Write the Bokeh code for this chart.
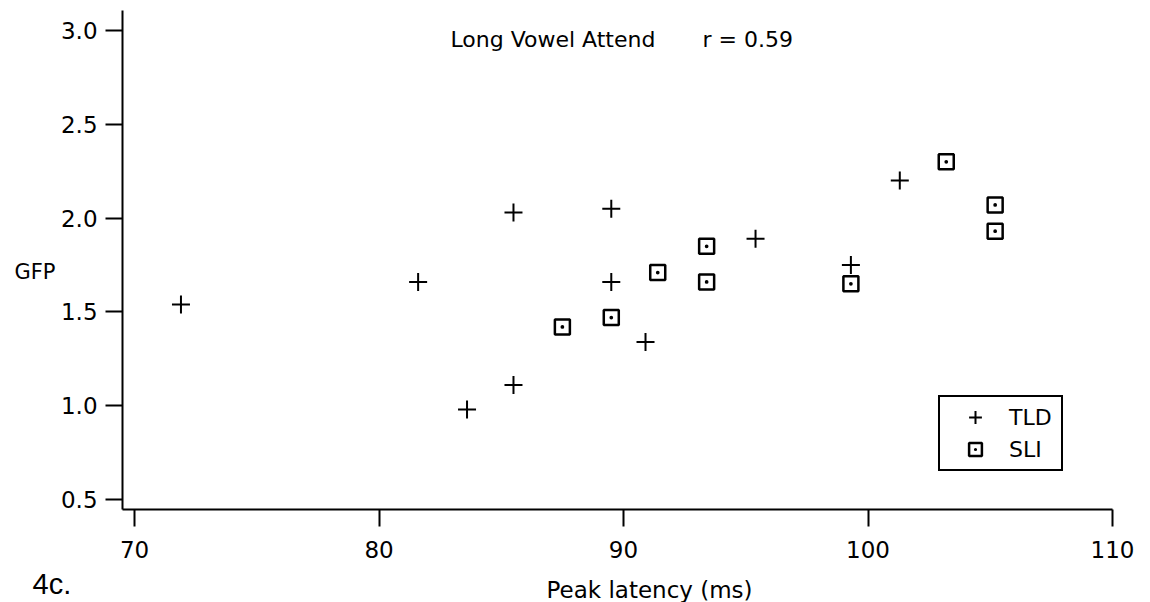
from bokeh.plotting import figure
from bokeh.models import Range1d, Label, Legend, FixedTicker
from bokeh.embed import file_html
from bokeh.resources import INLINE

# ---- data ----
tld_x = [71.9, 81.6, 83.6, 85.5, 85.5, 89.5, 89.5, 90.9, 95.4, 99.3, 101.3]
tld_y = [1.54, 1.66, 0.98, 2.03, 1.11, 2.05, 1.66, 1.34, 1.89, 1.75, 2.20]
sli_x = [87.5, 89.5, 91.4, 93.4, 93.4, 99.3, 103.2, 105.2, 105.2]
sli_y = [1.42, 1.47, 1.71, 1.85, 1.66, 1.65, 2.30, 2.07, 1.93]
x_ticks = [70, 80, 90, 100, 110]
y_ticks = [0.5, 1.0, 1.5, 2.0, 2.5, 3.0]
y_tick_labels = ["0.5", "1.0", "1.5", "2.0", "2.5", "3.0"]
title_text = "Long Vowel Attend"
r_text = "r = 0.59"
x_label = "Peak latency (ms)"
y_label = "GFP"
panel_label = "4c."

FONT = "DejaVu Sans"

# the frame fills the whole canvas; the axes are drawn at fixed locations inside it
p = figure(width=1150, height=602, output_backend="svg", toolbar_location=None,
           x_range=Range1d(64.519, 111.554), y_range=Range1d(-0.049, 3.160),
           min_border=0, min_border_left=0, min_border_right=0,
           min_border_top=0, min_border_bottom=0)
p.title.visible = False
p.outline_line_color = None
p.grid.visible = False
p.background_fill_color = "white"
p.border_fill_color = "white"

X_AXIS_AT = 0.4467
Y_AXIS_AT = 69.51

for ax in (p.xaxis[0], p.yaxis[0]):
    ax.axis_line_width = 2
    ax.axis_line_color = "black"
    ax.major_tick_line_width = 2
    ax.major_tick_line_color = "black"
    ax.major_tick_in = 0
    ax.major_tick_out = 17
    ax.minor_tick_line_color = None
    ax.major_label_text_font = FONT
    ax.major_label_text_font_size = "23px"
    ax.major_label_text_color = "black"

p.xaxis.ticker = FixedTicker(ticks=x_ticks)
p.yaxis.ticker = FixedTicker(ticks=y_ticks)
p.yaxis.major_label_overrides = {t: s for t, s in zip(y_ticks, y_tick_labels)}
p.xaxis.major_label_standoff = 14
p.yaxis.major_label_standoff = 8
p.xaxis.fixed_location = X_AXIS_AT
p.yaxis.fixed_location = Y_AXIS_AT
p.xaxis.bounds = (Y_AXIS_AT, 110.02)
p.yaxis.bounds = (X_AXIS_AT, 3.1066)

r1 = p.scatter(tld_x, tld_y, marker="cross", size=18, line_width=2, line_color="black")
r2 = p.scatter(sli_x, sli_y, marker="square_dot", size=15, line_width=2.5,
               line_color="black", fill_color=None)

legend = Legend(items=[("TLD", [r1]), ("SLI", [r2])], location=(938, 131))
legend.border_line_color = "black"
legend.border_line_alpha = 1
legend.border_line_width = 2
legend.background_fill_color = "white"
legend.background_fill_alpha = 1
legend.margin = 0
legend.padding = 4
legend.spacing = 0
legend.glyph_width = 62
legend.glyph_height = 32
legend.label_height = 32
legend.label_width = 48
legend.label_standoff = 3
legend.label_text_font = FONT
legend.label_text_font_size = "22px"
legend.label_text_color = "black"
legend.label_text_baseline = "middle"
p.add_layout(legend)

p.add_layout(Label(x=82.92, y=2.952, text=title_text, text_font=FONT,
                   text_font_size="22px", text_baseline="middle", text_color="black"))
p.add_layout(Label(x=93.23, y=2.952, text=r_text, text_font=FONT,
                   text_font_size="22px", text_baseline="middle", text_color="black"))
p.add_layout(Label(x=65.09, y=1.715, text=y_label, text_font=FONT,
                   text_font_size="21px", text_baseline="middle", text_color="black"))
p.add_layout(Label(x=86.85, y=0.018, text=x_label, text_font=FONT,
                   text_font_size="23px", text_baseline="alphabetic", text_color="black"))
p.add_layout(Label(x=65.83, y=0.047, text=panel_label, text_font="Liberation Sans",
                   text_font_size="29px", text_baseline="alphabetic", text_color="black"))

open("out.html", "w").write(file_html(p, INLINE))
